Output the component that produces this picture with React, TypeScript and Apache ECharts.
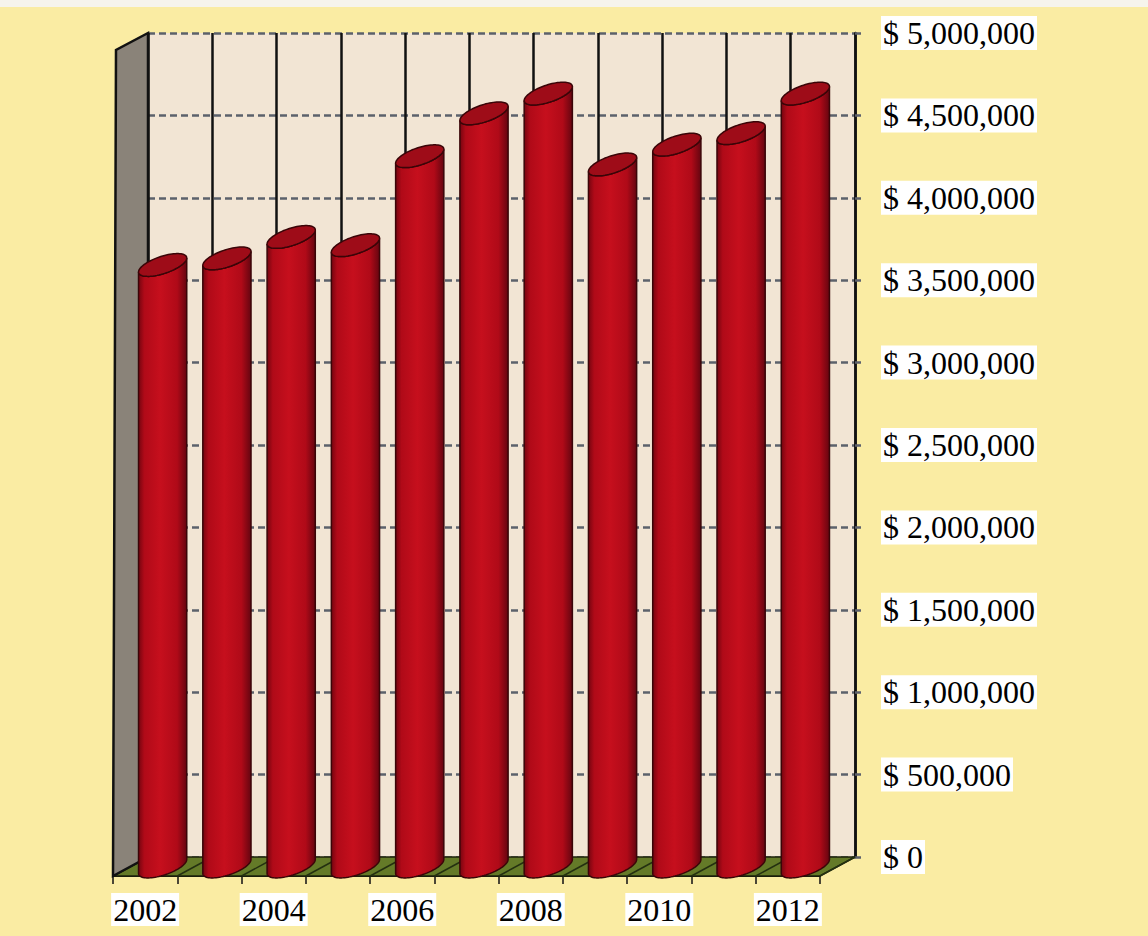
import React, { useEffect, useRef } from "react";
import * as echarts from "echarts";

const years = ["2002", "2003", "2004", "2005", "2006", "2007", "2008", "2009", "2010", "2011", "2012"];
const revenue = [3650000, 3690000, 3820000, 3770000, 4310000, 4570000, 4690000, 4260000, 4380000, 4450000, 4690000];
const yMin = 0;
const yMax = 5000000;
const yStep = 500000;

// oblique depth offset (back plane -> front plane)
const DX = -35;
const DY = 19;

function money(v: number): string {
  const s = String(Math.round(v));
  return "$ " + s.replace(/\B(?=(\d{3})+(?!\d))/g, ",");
}

const FONT = "'Liberation Serif', 'DejaVu Serif', serif";

export default function App() {
  const ref = useRef<HTMLDivElement>(null);
  useEffect(() => {
    if (!ref.current) return;
    const chart = echarts.init(ref.current, undefined, { renderer: "svg" });

    const wallsRender = (params: any, api: any) => {
      const cs = params.coordSys;
      const x0 = cs.x;
      const y0 = cs.y;
      const x1 = cs.x + cs.width;
      const y1 = cs.y + cs.height;
      const half = api.size([1, 0])[0] / 2;
      const children: any[] = [];
      children.push({
        type: "polygon",
        shape: { points: [[x0, y1], [x1, y1], [x1 + DX, y1 + DY], [x0 + DX, y1 + DY]] },
        style: { fill: "#647a28", stroke: "#1c220a", lineWidth: 1.5 },
      });
      for (let i = 0; i <= years.length; i++) {
        const bx = i < years.length ? api.coord([i, 0])[0] - half : api.coord([i - 1, 0])[0] + half;
        children.push({
          type: "line",
          shape: { x1: bx, y1: y1, x2: bx + DX, y2: y1 + DY },
          style: { stroke: "#243010", lineWidth: 1.5 },
        });
      }
      children.push({
        type: "polygon",
        shape: { points: [[x0, y0], [x0, y1], [x0 + DX, y1 + DY], [x0 + DX + 3, y0 + DY - 2]] },
        style: { fill: "#8a8379", stroke: "#111111", lineWidth: 2.5 },
      });
      return { type: "group", children };
    };

    const barRender = (params: any, api: any) => {
      const idx = api.value(0);
      const v = api.value(1);
      const top = api.coord([idx, v]);
      const base = api.coord([idx, 0]);
      const band = api.size([1, 0])[0];
      const w = band * 0.75;
      const rx = w / 2;
      const ry = 9;
      const k = 7;
      const cx = top[0] + DX / 2;
      const ty = top[1] + DY / 2;
      const by = base[1] + DY / 2;
      const pt = (cy: number, t: number) => [cx + rx * Math.cos(t), cy + ry * Math.sin(t) - k * Math.cos(t)];
      const N = 40;
      const body: number[][] = [];
      for (let j = 0; j <= N; j++) {
        const t = Math.PI - (Math.PI * j) / N;
        body.push(pt(by, t));
      }
      for (let j = 0; j <= N; j++) {
        const t = (Math.PI * j) / N;
        body.push(pt(ty, t));
      }
      const cap: number[][] = [];
      for (let j = 0; j < N * 2; j++) {
        const t = (Math.PI * 2 * j) / (N * 2);
        cap.push(pt(ty, t));
      }
      const grad = new echarts.graphic.LinearGradient(0, 0, 1, 0, [
        { offset: 0, color: "#760510" },
        { offset: 0.12, color: "#b00a18" },
        { offset: 0.45, color: "#c60f1d" },
        { offset: 0.8, color: "#b00a18" },
        { offset: 1, color: "#650510" },
      ]);
      return {
        type: "group",
        children: [
          {
            type: "polygon",
            shape: { points: body },
            style: { fill: grad, stroke: "#3a0508", lineWidth: 1.5 },
          },
          {
            type: "polygon",
            shape: { points: cap },
            style: { fill: "#9e0c18", stroke: "#3a0508", lineWidth: 1.5 },
          },
        ],
      };
    };

    const option: any = {
      animation: false,
      backgroundColor: "#faeca3",
      graphic: [
        {
          type: "rect",
          shape: { x: 0, y: 0, width: 1148, height: 7 },
          style: { fill: "#f6f4ec" },
          z: 10,
        },
      ],
      grid: [
        {
          left: 148,
          top: 33,
          right: 293,
          bottom: 79,
          show: true,
          backgroundColor: "#f2e5d4",
          borderWidth: 0,
          containLabel: false,
        },
        {
          left: 148 + DX,
          top: 33 + DY,
          right: 293 - DX,
          bottom: 79 - DY,
          show: false,
          containLabel: false,
        },
      ],
      xAxis: [
        {
          type: "category",
          gridIndex: 0,
          data: years,
          boundaryGap: true,
          axisLine: { show: false },
          axisTick: { show: false },
          axisLabel: { show: false },
          splitLine: { show: true, interval: 0, lineStyle: { color: "#111111", width: 2.5 } },
        },
        {
          type: "category",
          gridIndex: 1,
          data: years,
          boundaryGap: true,
          axisLine: { show: true, lineStyle: { color: "#111111", width: 2 } },
          axisTick: { show: true, interval: 0, length: 8, lineStyle: { color: "#111111", width: 1.5 } },
          axisLabel: {
            interval: 1,
            margin: 17,
            color: "#000000",
            fontFamily: FONT,
            fontSize: 32,
            backgroundColor: "#ffffff",
            padding: [1, 2, 0, 2],
          },
          splitLine: { show: false },
        },
      ],
      yAxis: [
        {
          type: "value",
          gridIndex: 0,
          position: "right",
          min: yMin,
          max: yMax,
          interval: yStep,
          axisLine: { show: true, lineStyle: { color: "#111111", width: 2.5 } },
          axisTick: { show: true, length: 10, lineStyle: { color: "#5c616b", width: 2.5, type: [6, 4] } },
          axisLabel: {
            margin: 26,
            color: "#000000",
            fontFamily: FONT,
            fontSize: 32,
            backgroundColor: "#ffffff",
            padding: [2, 2, 0, 2],
            formatter: (v: number) => money(v),
          },
          splitLine: { show: true, lineStyle: { color: "#5c616b", width: 2.5, type: [7, 4] } },
        },
        {
          type: "value",
          gridIndex: 1,
          min: yMin,
          max: yMax,
          interval: yStep,
          show: false,
          splitLine: { show: false },
        },
      ],
      series: [
        {
          type: "custom",
          name: "walls",
          xAxisIndex: 0,
          yAxisIndex: 0,
          clip: false,
          z: 1,
          silent: true,
          renderItem: wallsRender,
          data: [[0, 0]],
        },
        {
          type: "custom",
          name: "Revenue",
          xAxisIndex: 0,
          yAxisIndex: 0,
          clip: false,
          z: 3,
          renderItem: barRender,
          data: revenue.map((v, i) => [i, v]),
        },
      ],
    };
    chart.setOption(option);
    return () => chart.dispose();
  }, []);
  return <div ref={ref} style={{ position: "fixed", left: 0, top: 0, width: 1148, height: 936 }} />;
}
